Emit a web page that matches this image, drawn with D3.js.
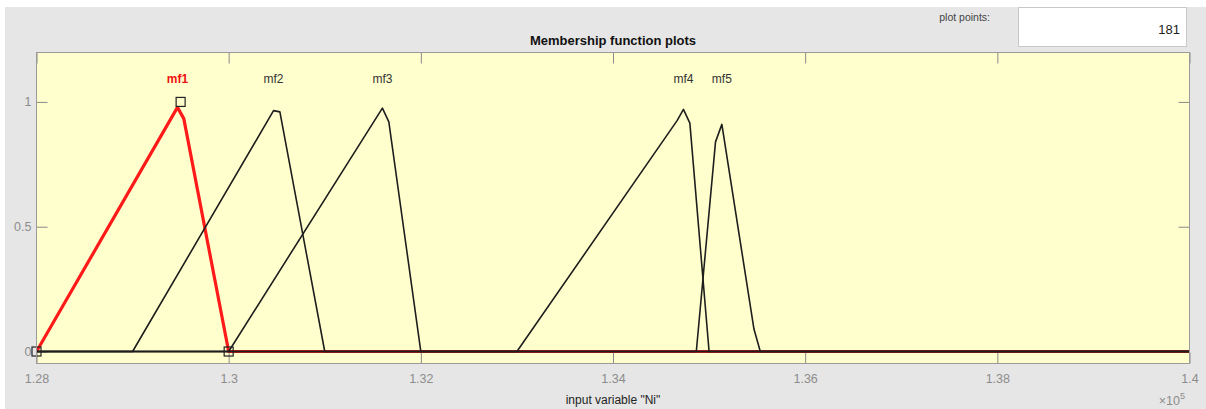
<!DOCTYPE html>
<html>
<head>
<meta charset="utf-8">
<script src="https://cdn.jsdelivr.net/npm/d3@7"></script>
<style>
  html, body { margin: 0; padding: 0; background: #ffffff; }
  svg { display: block; font-family: "Liberation Sans", Arial, Helvetica, sans-serif; }
</style>
</head>
<body>
<svg id="chart" width="1206" height="409"></svg>
<script>
// Input variable "Ni" range and axis ticks
const xDomain = [128000, 140000];
const yDomain = [-0.05, 1.2];
const xTickValues = [128000, 130000, 132000, 134000, 136000, 138000, 140000];
const yTickValues = [0, 0.5, 1];
const plotPoints = 181;

// Membership function names
const mfNames = ["mf1", "mf2", "mf3", "mf4", "mf5"];

// Evaluated membership curves (non-zero part of each function)
const mf1X = [128000, 129467, 129533, 130000];
const mf1Y = [0, 0.978, 0.933, 0];
const mf2X = [129000, 130467, 130533, 131000];
const mf2Y = [0, 0.965, 0.96, 0];
const mf3X = [130000, 131600, 131667, 132000];
const mf3Y = [0, 0.975, 0.92, 0];
const mf4X = [133000, 134667, 134733, 134800, 135000];
const mf4Y = [0, 0.925, 0.97, 0.915, 0];
const mf5X = [134867, 135067, 135133, 135467, 135533];
const mf5Y = [0, 0.84, 0.91, 0.09, 0];

// Parameters of the selected function (mf1, triangular)
const selectedIndex = 0;
const selectedParamsX = [128000, 129500, 130000];
const selectedParamsY = [0, 1, 0];

const mfXs = [mf1X, mf2X, mf3X, mf4X, mf5X];
const mfYs = [mf1Y, mf2Y, mf3Y, mf4Y, mf5Y];

const svg = d3.select("#chart");
const W = 1206, H = 409;

// Grey figure panel
svg.append("rect").attr("x", 5).attr("y", 7).attr("width", W - 5).attr("height", H - 7)
  .attr("fill", "#e6e6e6");

// Plot area
const pLeft = 36.5, pRight = 1189.5, pTop = 52.5, pBottom = 363.5;
const x = d3.scaleLinear().domain(xDomain).range([pLeft, pRight]);
const y = d3.scaleLinear().domain(yDomain).range([364, 52]);

svg.append("rect").attr("x", pLeft).attr("y", pTop)
  .attr("width", pRight - pLeft).attr("height", pBottom - pTop)
  .attr("fill", "#ffffcd");

svg.append("defs").append("clipPath").attr("id", "plotClip")
  .append("rect").attr("x", pLeft).attr("y", pTop)
  .attr("width", pRight - pLeft).attr("height", pBottom - pTop);

// Ticks on all four sides, pointing inward
const tickLen = 11;
const tickColor = "#8a8a8a";
const axisBottom = d3.axisBottom(x).tickValues(xTickValues)
  .tickSizeInner(-tickLen).tickSizeOuter(0)
  .tickFormat(d => d3.format("")(+(d / 1e5).toFixed(2)));
const gxb = svg.append("g").attr("transform", `translate(0,${pBottom})`).call(axisBottom);
gxb.select(".domain").remove();
gxb.selectAll(".tick line").attr("stroke", tickColor);
gxb.selectAll(".tick text").attr("fill", "#8c8c8c").attr("font-size", 12.5)
  .attr("y", 11).attr("dy", "0.71em");

const axisTop = d3.axisTop(x).tickValues(xTickValues)
  .tickSizeInner(-tickLen).tickSizeOuter(0).tickFormat("");
const gxt = svg.append("g").attr("transform", `translate(0,${pTop})`).call(axisTop);
gxt.select(".domain").remove();
gxt.selectAll(".tick line").attr("stroke", tickColor);

const axisLeft = d3.axisLeft(y).tickValues(yTickValues)
  .tickSizeInner(-tickLen).tickSizeOuter(0).tickFormat(d3.format(""));
const gyl = svg.append("g").attr("transform", `translate(${pLeft},0)`).call(axisLeft);
gyl.select(".domain").remove();
gyl.selectAll(".tick line").attr("stroke", tickColor);
gyl.selectAll(".tick text").attr("fill", "#8c8c8c").attr("font-size", 12.5).attr("x", -5);

const axisRight = d3.axisRight(y).tickValues(yTickValues)
  .tickSizeInner(-tickLen).tickSizeOuter(0).tickFormat("");
const gyr = svg.append("g").attr("transform", `translate(${pRight},0)`).call(axisRight);
gyr.select(".domain").remove();
gyr.selectAll(".tick line").attr("stroke", tickColor);

// Membership function curves, each extended at zero across the full range
const line = d3.line().x(d => x(d[0])).y(d => y(d[1]));
function curvePoints(i) {
  const pts = mfXs[i].map((v, k) => [v, mfYs[i][k]]);
  return [[xDomain[0], 0], ...pts, [xDomain[1], 0]];
}

const curves = svg.append("g").attr("clip-path", "url(#plotClip)");
// selected function first, drawn thick and red
curves.append("path").datum(curvePoints(selectedIndex))
  .attr("d", line).attr("fill", "none")
  .attr("stroke", "#ff1a1a").attr("stroke-width", 3.2)
  .attr("stroke-linejoin", "round");
mfNames.forEach((name, i) => {
  if (i === selectedIndex) return;
  curves.append("path").datum(curvePoints(i))
    .attr("d", line).attr("fill", "none")
    .attr("stroke", "#1e1e1e").attr("stroke-width", 1.6)
    .attr("stroke-linejoin", "round");
});

// Control points of the selected function
svg.append("g").selectAll("rect")
  .data(selectedParamsX.map((v, k) => [v, selectedParamsY[k]]))
  .join("rect")
  .attr("x", d => x(d[0]) - 4.5).attr("y", d => y(d[1]) - 4.5)
  .attr("width", 9).attr("height", 9)
  .attr("fill", "none").attr("stroke", "#222").attr("stroke-width", 1.2);

// Function labels above each peak
mfNames.forEach((name, i) => {
  const ys = mfYs[i];
  const k = ys.indexOf(d3.max(ys));
  svg.append("text")
    .attr("x", x(mfXs[i][k])).attr("y", 83)
    .attr("text-anchor", "middle").attr("font-size", 12)
    .attr("font-weight", i === selectedIndex ? "bold" : "normal")
    .attr("fill", i === selectedIndex ? "#ee1111" : "#333333")
    .text(name);
});

// Titles and annotations
svg.append("text").attr("x", 613).attr("y", 45).attr("text-anchor", "middle")
  .attr("font-size", 13).attr("font-weight", "bold").attr("fill", "#111")
  .text("Membership function plots");

svg.append("text").attr("x", 613).attr("y", 404).attr("text-anchor", "middle")
  .attr("font-size", 12).attr("fill", "#222")
  .text("input variable \"Ni\"");

const mult = svg.append("text").attr("x", 1185).attr("y", 405).attr("text-anchor", "end")
  .attr("font-size", 12.5).attr("fill", "#8c8c8c");
mult.append("tspan").text("\u00d710");
mult.append("tspan").attr("dy", -6).attr("font-size", 9).text("5");

svg.append("text").attr("x", 990).attr("y", 21).attr("text-anchor", "end")
  .attr("font-size", 10.5).attr("fill", "#444").text("plot points:");

svg.append("rect").attr("x", 1018.5).attr("y", 7.5).attr("width", 168).attr("height", 39)
  .attr("fill", "#ffffff").attr("stroke", "#c8c8c8");
svg.append("text").attr("x", 1180).attr("y", 34).attr("text-anchor", "end")
  .attr("font-size", 13).attr("fill", "#222").text(plotPoints);

// Plot border
svg.append("rect").attr("x", pLeft).attr("y", pTop)
  .attr("width", pRight - pLeft).attr("height", pBottom - pTop)
  .attr("fill", "none").attr("stroke", "#9a9a9a");
</script>
</body>
</html>
